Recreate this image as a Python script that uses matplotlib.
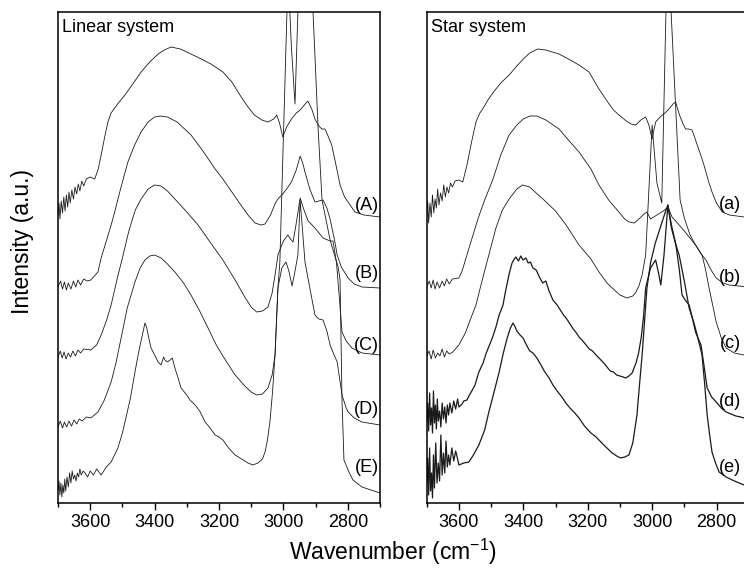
import matplotlib
matplotlib.use("Agg")
import matplotlib.pyplot as plt
from matplotlib.ticker import MultipleLocator

plt.rcParams['font.family'] = ['Liberation Sans', 'DejaVu Sans']
plt.rcParams['mathtext.default'] = 'regular'

# ---- Linear system (left panel) ----
lin_A_wn = [3700, 3697, 3694, 3690, 3686, 3682, 3678, 3674, 3670, 3666, 3662, 3657, 3652, 3647, 3642, 3637,
            3632, 3626, 3620, 3612, 3600, 3586, 3575, 3566, 3555, 3545, 3535, 3524, 3510, 3492, 3470, 3442,
            3415, 3389, 3370, 3349, 3320, 3287, 3255, 3225, 3188, 3160, 3135, 3110, 3090, 3067, 3048, 3030,
            3021, 3012, 3002, 2990, 2975, 2960, 2948, 2935, 2924, 2912, 2902, 2890, 2881, 2871, 2860, 2850,
            2838, 2824, 2810, 2799, 2778, 2750, 2700]
lin_A_y = [288, 300, 284, 302, 290, 306, 292, 308, 296, 311, 300, 313, 304, 316, 309, 319,
           312, 322, 317, 324, 326, 324, 334, 348, 366, 381, 390, 395, 401, 408, 418, 431,
           441, 449, 453, 456, 454, 449, 444, 439, 431, 421, 408, 396, 388, 383, 381, 384,
           388, 380, 366, 376, 384, 390, 393, 398, 402, 394, 384, 377, 374, 374, 366, 358,
           340, 318, 306, 301, 291, 288, 286]

lin_B_wn = [3700, 3692, 3686, 3680, 3674, 3668, 3660, 3652, 3645, 3638, 3630, 3620, 3610, 3598, 3576, 3566,
            3550, 3535, 3524, 3505, 3483, 3462, 3442, 3420, 3400, 3383, 3360, 3330, 3287, 3250, 3212, 3188,
            3160, 3130, 3110, 3088, 3070, 3057, 3040, 3025, 3017, 3005, 2990, 2975, 2960, 2948, 2940, 2933,
            2918, 2902, 2890, 2877, 2865, 2855, 2840, 2833, 2820, 2799, 2780, 2756, 2700]
lin_B_y = [216, 222, 214, 221, 213, 220, 214, 222, 216, 223, 218, 224, 222, 223, 231, 245,
           262, 278, 291, 315, 341, 358, 371, 381, 386, 387, 386, 381, 368, 352, 334, 324,
           311, 297, 288, 280, 278, 279, 288, 300, 304, 308, 314, 321, 333, 347, 340, 331,
           314, 301, 302, 303, 295, 284, 261, 248, 236, 225, 219, 216, 215]

lin_C_wn = [3700, 3693, 3687, 3681, 3675, 3668, 3661, 3654, 3646, 3638, 3630, 3620, 3598, 3580, 3566, 3550,
            3535, 3515, 3500, 3480, 3460, 3442, 3420, 3400, 3380, 3360, 3337, 3300, 3265, 3230, 3188, 3150,
            3120, 3100, 3083, 3065, 3048, 3035, 3025, 3017, 3000, 2986, 2978, 2970, 2960, 2948, 2935, 2923,
            2902, 2877, 2855, 2846, 2835, 2825, 2818, 2805, 2787, 2756, 2700]
lin_C_y = [146, 152, 145, 151, 144, 150, 146, 152, 147, 153, 150, 154, 153, 158, 168, 182,
           198, 226, 245, 272, 293, 304, 314, 318, 317, 312, 304, 291, 278, 262, 243, 223,
           206, 196, 191, 192, 196, 210, 230, 248, 262, 268, 264, 261, 280, 305, 292, 282,
           275, 265, 262, 262, 240, 200, 171, 162, 155, 150, 148]

lin_D_wn = [3700, 3693, 3686, 3680, 3673, 3666, 3658, 3650, 3642, 3634, 3625, 3612, 3598, 3576, 3556, 3535,
            3520, 3504, 3485, 3461, 3445, 3430, 3415, 3400, 3380, 3360, 3337, 3310, 3287, 3260, 3234, 3210,
            3188, 3170, 3150, 3120, 3100, 3083, 3065, 3048, 3035, 3026, 3017, 3005, 2992, 2983, 2973, 2965,
            2955, 2948, 2940, 2933, 2915, 2902, 2890, 2877, 2865, 2855, 2845, 2833, 2818, 2805, 2799, 2780,
            2756, 2700]
lin_D_y = [76, 82, 75, 81, 76, 82, 77, 83, 79, 84, 82, 86, 85, 91, 103, 121,
           140, 165, 195, 221, 235, 243, 247, 248, 245, 239, 231, 220, 208, 192, 175, 159,
           147, 138, 128, 117, 111, 108, 109, 115, 128, 148, 215, 235, 241, 232, 217, 230,
           248, 303, 270, 241, 210, 188, 184, 183, 172, 158, 150, 141, 108, 95, 91, 85,
           81, 78]

lin_E_wn = [3700, 3697, 3694, 3691, 3688, 3685, 3682, 3679, 3676, 3672, 3668, 3664, 3660, 3656, 3652, 3648,
            3644, 3640, 3636, 3632, 3628, 3622, 3616, 3608, 3600, 3590, 3580, 3566, 3550, 3535, 3514, 3500,
            3492, 3475, 3461, 3450, 3440, 3430, 3425, 3420, 3411, 3400, 3389, 3380, 3372, 3368, 3360, 3352,
            3345, 3337, 3328, 3318, 3300, 3290, 3274, 3260, 3243, 3230, 3212, 3200, 3188, 3170, 3150, 3130,
            3110, 3095, 3079, 3065, 3057, 3050, 3042, 3034, 3026, 3017, 3011, 2989, 2984, 2980, 2975, 2964,
            2958, 2955, 2940, 2920, 2908, 2892, 2880, 2855, 2830, 2824, 2818, 2812, 2795, 2784, 2756, 2700]
lin_E_y = [12, 22, 8, 20, 6, 18, 10, 24, 12, 26, 16, 30, 20, 32, 24, 28,
           22, 30, 26, 34, 28, 32, 30, 26, 32, 28, 34, 28, 36, 41, 55, 70,
           81, 105, 131, 150, 165, 180, 176, 168, 155, 148, 141, 138, 146, 143, 141, 143,
           145, 135, 126, 115, 108, 103, 98, 92, 81, 76, 68, 66, 63, 55, 48, 44,
           40, 38, 40, 44, 51, 62, 81, 110, 148, 215, 241, 491, 560, 491, 455, 399,
           460, 491, 620, 600, 491, 373, 303, 263, 236, 223, 103, 43, 30, 23, 16, 10]

# ---- Star system (right panel) ----
star_a_wn = [3700, 3697, 3694, 3690, 3686, 3682, 3678, 3674, 3670, 3666, 3662, 3657, 3652, 3647, 3642, 3637,
             3632, 3626, 3620, 3612, 3600, 3588, 3575, 3560, 3547, 3535, 3526, 3510, 3490, 3470, 3444, 3420,
             3400, 3380, 3355, 3330, 3310, 3289, 3260, 3227, 3196, 3165, 3140, 3120, 3103, 3080, 3065, 3051,
             3035, 3020, 3010, 3000, 2995, 2989, 2975, 2960, 2945, 2935, 2927, 2915, 2905, 2896, 2886, 2876,
             2868, 2860, 2850, 2839, 2825, 2814, 2800, 2782, 2760, 2714, 2700]
star_a_y = [288, 302, 280, 300, 286, 308, 290, 304, 295, 314, 298, 310, 302, 318, 306, 316,
            310, 320, 316, 322, 323, 321, 338, 362, 381, 390, 394, 403, 412, 420, 428, 437,
            444, 450, 454, 453, 451, 449, 444, 438, 431, 414, 402, 393, 388, 382, 379, 378,
            383, 386, 378, 364, 372, 381, 386, 390, 395, 399, 401, 388, 380, 374, 374, 373,
            366, 358, 349, 338, 322, 311, 300, 291, 288, 286, 286]

star_b_wn = [3700, 3692, 3686, 3680, 3674, 3668, 3660, 3652, 3645, 3638, 3630, 3620, 3600, 3590, 3578, 3560,
             3540, 3520, 3494, 3470, 3444, 3420, 3400, 3380, 3358, 3330, 3289, 3260, 3227, 3190, 3165, 3135,
             3103, 3085, 3072, 3055, 3041, 3025, 3016, 3005, 2995, 2980, 2965, 2951, 2938, 2916, 2900, 2880,
             2865, 2850, 2833, 2815, 2801, 2780, 2761, 2700]
star_b_y = [216, 222, 215, 223, 214, 221, 215, 222, 217, 224, 219, 224, 225, 232, 245, 264,
            285, 303, 324, 348, 368, 378, 384, 387, 387, 383, 374, 363, 351, 334, 318, 303,
            291, 284, 281, 280, 284, 289, 291, 284, 286, 289, 292, 296, 286, 278, 272, 264,
            258, 250, 243, 232, 225, 220, 218, 216]

star_c_wn = [3700, 3693, 3686, 3680, 3673, 3666, 3659, 3652, 3645, 3638, 3630, 3619, 3600, 3580, 3565, 3547,
             3530, 3507, 3485, 3465, 3444, 3420, 3402, 3380, 3360, 3339, 3300, 3267, 3227, 3190, 3165, 3140,
             3124, 3100, 3078, 3060, 3050, 3040, 3031, 3020, 3000, 2985, 2970, 2957, 2950, 2941, 2913, 2900,
             2882, 2865, 2845, 2835, 2823, 2810, 2801, 2785, 2770, 2745, 2714, 2700]
star_c_y = [146, 152, 144, 153, 145, 150, 147, 154, 146, 152, 149, 151, 158, 170, 183, 198,
            220, 248, 275, 293, 304, 314, 318, 316, 310, 304, 292, 278, 258, 244, 231, 220,
            215, 208, 205, 207, 211, 218, 228, 248, 378, 320, 300, 491, 620, 491, 303, 285,
            268, 258, 248, 235, 215, 195, 181, 165, 155, 150, 148, 148]

star_d_wn = [3700, 3697, 3694, 3691, 3688, 3685, 3682, 3679, 3676, 3673, 3670, 3667, 3664, 3660, 3656, 3652,
             3648, 3644, 3640, 3636, 3632, 3628, 3622, 3616, 3610, 3604, 3600, 3590, 3585, 3575, 3569, 3560,
             3550, 3538, 3525, 3515, 3505, 3494, 3485, 3475, 3463, 3455, 3444, 3435, 3428, 3423, 3415, 3408,
             3401, 3392, 3385, 3378, 3370, 3360, 3350, 3340, 3330, 3320, 3308, 3295, 3285, 3275, 3265, 3255,
             3245, 3235, 3227, 3215, 3205, 3195, 3185, 3174, 3162, 3150, 3140, 3130, 3120, 3110, 3100, 3090,
             3082, 3072, 3062, 3050, 3042, 3034, 3027, 3020, 3005, 2989, 2980, 2973, 2963, 2951, 2940, 2926,
             2915, 2907, 2895, 2885, 2875, 2865, 2855, 2848, 2840, 2829, 2815, 2801, 2785, 2770, 2755, 2740,
             2725, 2714, 2700]
star_d_y = [80, 100, 72, 110, 78, 95, 70, 112, 80, 98, 74, 104, 82, 92, 76, 100,
            84, 96, 80, 98, 88, 100, 90, 102, 94, 104, 96, 99, 102, 103, 107, 112,
            118, 131, 140, 150, 158, 167, 176, 188, 198, 212, 229, 240, 244, 246, 242, 247,
            243, 245, 240, 241, 235, 233, 226, 220, 222, 212, 203, 198, 193, 188, 184, 179,
            174, 170, 166, 162, 158, 154, 152, 148, 144, 140, 136, 132, 131, 128, 127, 126,
            125, 127, 130, 140, 150, 165, 185, 215, 235, 243, 230, 218, 248, 298, 278, 258,
            232, 208, 202, 198, 185, 171, 163, 158, 140, 115, 106, 101, 95, 91, 89, 87,
            86, 85, 84]

star_e_wn = [3700, 3697, 3694, 3691, 3688, 3685, 3682, 3679, 3676, 3672, 3668, 3664, 3660, 3656, 3652, 3648,
             3644, 3640, 3636, 3632, 3628, 3622, 3616, 3610, 3604, 3600, 3585, 3569, 3555, 3538, 3520, 3507,
             3490, 3475, 3462, 3450, 3440, 3432, 3425, 3420, 3410, 3401, 3390, 3380, 3370, 3358, 3345, 3335,
             3320, 3308, 3295, 3280, 3268, 3255, 3240, 3227, 3210, 3190, 3174, 3150, 3124, 3110, 3098, 3085,
             3072, 3060, 3047, 3040, 3031, 3016, 3005, 2990, 2970, 2960, 2951, 2940, 2926, 2916, 2900, 2885,
             2870, 2860, 2845, 2837, 2829, 2820, 2814, 2803, 2792, 2770, 2751, 2730, 2714, 2700]
star_e_y = [20, 45, 8, 55, 12, 30, 5, 48, 15, 60, 20, 40, 22, 68, 28, 50,
            30, 62, 36, 48, 38, 55, 42, 52, 44, 38, 40, 41, 48, 58, 73, 91,
            112, 131, 150, 165, 175, 180, 176, 172, 168, 165, 158, 152, 150, 145, 138, 132,
            125, 118, 112, 106, 100, 95, 90, 85, 77, 70, 66, 58, 50, 47, 45, 46,
            48, 60, 88, 115, 148, 215, 240, 260, 280, 290, 298, 275, 258, 248, 222, 195,
            180, 168, 148, 120, 88, 65, 51, 40, 31, 26, 23, 20, 18, 17]

lin_series = [(lin_A_wn, lin_A_y), (lin_B_wn, lin_B_y), (lin_C_wn, lin_C_y),
              (lin_D_wn, lin_D_y), (lin_E_wn, lin_E_y)]
star_series = [(star_a_wn, star_a_y), (star_b_wn, star_b_y), (star_c_wn, star_c_y),
               (star_d_wn, star_d_y), (star_e_wn, star_e_y)]

lin_labels = ["(A)", "(B)", "(C)", "(D)", "(E)"]
lin_label_y = [298, 230, 158, 93, 36]
star_labels = ["(a)", "(b)", "(c)", "(d)", "(e)"]
star_label_y = [299, 226, 160, 101, 36]

xticks = [3600, 3400, 3200, 3000, 2800]

fig = plt.figure(figsize=(7.44, 5.72), dpi=100)
ax1 = fig.add_axes([58 / 744, 69 / 572, 322 / 744, 491 / 572])
ax2 = fig.add_axes([426.7 / 744, 69 / 572, 322 / 744, 491 / 572])


def setup(ax, series, labels, label_x, label_y, title, widths):
    for (wn, y), lw in zip(series, widths):
        ax.plot(wn, y, color='#1a1a1a', lw=lw)
    ax.set_xlim(3700, 2700)
    ax.set_ylim(0, 491)
    ax.set_xticks(xticks)
    ax.xaxis.set_minor_locator(MultipleLocator(100))
    ax.tick_params(axis='x', which='major', direction='out', length=5, width=1, labelsize=13, pad=3)
    ax.tick_params(axis='x', which='minor', direction='out', length=3, width=1)
    ax.set_yticks([])
    for s in ax.spines.values():
        s.set_linewidth(1.1)
    for lab, ly in zip(labels, label_y):
        ax.text(label_x, ly, lab, ha='center', va='center', fontsize=13)
    ax.text(0.012, 0.969, title, transform=ax.transAxes, ha='left', va='center', fontsize=13)


setup(ax1, lin_series, lin_labels, 2742, lin_label_y, "Linear system", [0.6, 0.6, 0.6, 0.6, 0.6])
setup(ax2, star_series, star_labels, 2757, star_label_y, "Star system", [0.6, 0.6, 0.6, 0.9, 0.9])

fig.text(22 / 744, 1 - 241 / 572, "Intensity (a.u.)", rotation=90, ha='center', va='center', fontsize=16.5)
fig.text(393 / 744, 1 - 552 / 572, "Wavenumber (cm$^{-1}$)", ha='center', va='center', fontsize=16.5)

fig.savefig("out.png", dpi=100)
